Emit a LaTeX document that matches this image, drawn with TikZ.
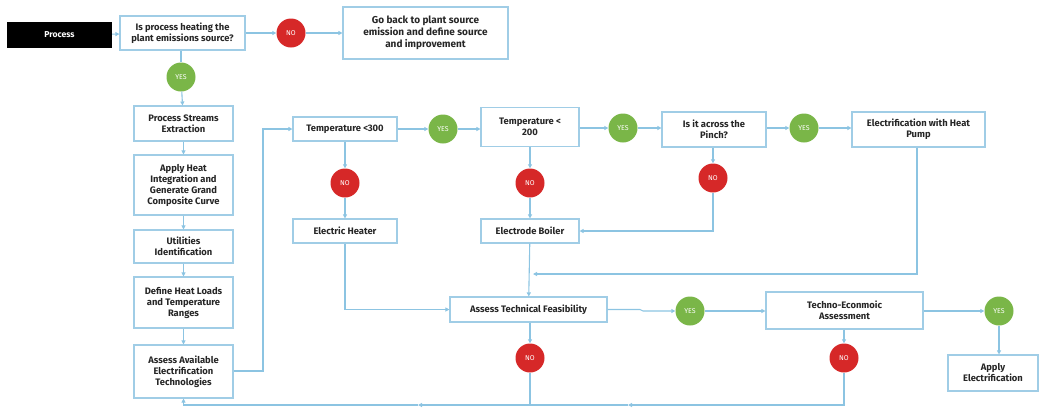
\documentclass[tikz,border=0pt]{standalone}
\usepackage{fontspec}
\setmainfont{Fira Sans}
\usetikzlibrary{arrows.meta}
\definecolor{lineblue}{RGB}{140,196,226}
\definecolor{boxblue}{RGB}{160,205,230}
\definecolor{okgreen}{RGB}{122,182,72}
\definecolor{nored}{RGB}{214,40,40}
\tikzset{
  box/.style={draw=boxblue, line width=1.1pt, fill=white, align=center, inner sep=1pt,
    font=\fontsize{9.4}{11}\selectfont\bfseries, text=black!85},
  blackbox/.style={fill=black, align=center, font=\fontsize{8.6}{10}\selectfont\bfseries, text=white},
  yesc/.style={circle, fill=okgreen, minimum size=29pt, inner sep=0pt, text=white, font=\fontsize{7}{8}\selectfont},
  noc/.style={circle, fill=nored, minimum size=29pt, inner sep=0pt, text=white, font=\fontsize{7}{8}\selectfont},
  conn/.style={draw=lineblue, line width=1.1pt},
  arr/.style={conn, -{Triangle[length=4pt,width=4pt]}},
}
\begin{document}
\begin{tikzpicture}[x=1pt,y=-1pt]
\useasboundingbox (0,0) rectangle (1042,408);
% nodes
\node[blackbox, minimum width=105pt, minimum height=26pt] (proc) at (59.5,35) {Process};
\node[box, minimum width=125pt, minimum height=34pt] (q1) at (182.5,33) {Is process heating the\\plant emissions source?};
\node[noc] (no1) at (291,33) {NO};
\node[box, minimum width=165pt, minimum height=52pt, font=\fontsize{10}{12}\selectfont\bfseries] (goback) at (425.5,33) {Go back to plant source\\emission and define source\\and improvement};
\node[yesc] (yes1) at (181,77) {YES};
\node[box, minimum width=99pt, minimum height=35pt] (pse) at (183.5,123.5) {Process Streams\\Extraction};
\node[box, minimum width=99pt, minimum height=60pt] (ahi) at (183.5,185) {Apply Heat\\Integration and\\Generate Grand\\Composite Curve};
\node[box, minimum width=99pt, minimum height=33pt] (ui) at (183.5,246.5) {Utilities\\Identification};
\node[box, minimum width=99pt, minimum height=51pt] (dhl) at (183.5,302.5) {Define Heat Loads\\and Temperature\\Ranges};
\node[box, minimum width=99pt, minimum height=53pt] (aaet) at (183.5,371.5) {Assess Available\\Electrification\\Technologies};
\node[box, minimum width=104pt, minimum height=24pt] (t300) at (345,129) {Temperature <300};
\node[yesc] (yes2) at (443,129) {YES};
\node[box, minimum width=98pt, minimum height=39pt] (t200) at (530,127) {Temperature <\\200};
\node[yesc] (yes3) at (623,128) {YES};
\node[box, minimum width=104pt, minimum height=35pt] (pinch) at (714,129.5) {Is it across the\\Pinch?};
\node[yesc] (yes4) at (804,128) {YES};
\node[box, minimum width=133pt, minimum height=35pt] (hp) at (918.5,129.5) {Electrification with Heat\\Pump};
\node[noc] (no2) at (345,183) {NO};
\node[box, minimum width=104pt, minimum height=24pt] (eh) at (345,231) {Electric Heater};
\node[noc] (no3) at (530,183) {NO};
\node[box, minimum width=98pt, minimum height=24pt] (eb) at (530,231) {Electrode Boiler};
\node[noc] (no4) at (713,178) {NO};
\node[box, minimum width=157pt, minimum height=25pt] (atf) at (528.5,309.5) {Assess Technical Feasibility};
\node[yesc] (yes5) at (690,311) {YES};
\node[box, minimum width=157pt, minimum height=37pt] (tea) at (844.5,310.5) {Techno-Econmoic\\Assessment};
\node[yesc] (yes6) at (999,311) {YES};
\node[box, minimum width=90pt, minimum height=36pt] (ae) at (993,373) {Apply\\Electrification};
\node[noc] (no5) at (530,358) {NO};
\node[noc] (no6) at (844,358) {NO};
% coordinates
\coordinate (c1) at (263,371);
\coordinate (c2) at (263,129);
\coordinate (hpd) at (917,274);
\coordinate (mrg) at (533,274);
\coordinate (ehd) at (345,309.5);
\coordinate (st1) at (640,309.5);
\coordinate (st2) at (643,311);
\coordinate (b1) at (844,405);
\coordinate (b2) at (628,405);
\coordinate (b3) at (418,405);
\coordinate (b4) at (183.5,405);
\coordinate (b5) at (530,405);
\coordinate (p1) at (713,231);
% connectors
\draw[arr] (proc) -- (q1);
\draw[arr] (q1) -- (no1);
\draw[arr] (no1) -- (goback);
\draw[conn] (q1.south -| yes1) -- (yes1);
\draw[arr] (yes1) -- (pse);
\draw[arr] (pse) -- (ahi);
\draw[arr] (ahi) -- (ui);
\draw[arr] (ui) -- (dhl);
\draw[arr] (dhl) -- (aaet);
\draw[arr] (aaet.east |- c1) -- (c1) -- (c2) -- (t300.west);
\draw[arr] (t300) -- (yes2);
\draw[arr] (yes2) -- (yes2 -| t200.west);
\draw[arr] (t200.east |- yes3) -- (yes3);
\draw[arr] (yes3) -- (yes3 -| pinch.west);
\draw[arr] (pinch.east |- yes4) -- (yes4);
\draw[arr] (yes4) -- (yes4 -| hp.west);
\draw[arr] (t300) -- (no2);
\draw[arr] (no2) -- (eh);
\draw[arr] (t200) -- (no3);
\draw[arr] (no3) -- (eb);
\draw[arr] (pinch.south -| no4) -- (no4);
\draw[arr] (no4) -- (p1) -- (eb.east);
\draw[arr] (hp.south -| hpd) -- (hpd) -- (mrg);
\draw[arr] (eb) -- (atf);
\draw[arr] (eh) -- (ehd) -- (atf.west);
\draw[arr] (atf.east) -- (st1) -- (st2) -- (yes5);
\draw[arr] (yes5) -- (yes5 -| tea.west);
\draw[arr] (tea.east |- yes6) -- (yes6);
\draw[arr] (yes6) -- (yes6 |- ae.north);
\draw[arr] (tea.south -| no6) -- (no6);
\draw[arr] (atf.south -| no5) -- (no5);
\draw[arr] (no6) -- (b1) -- (b2);
\draw[arr] (b2) -- (b3);
\draw[arr] (b3) -- (b4) -- (aaet.south);
\draw[conn] (no5) -- (b5);
\end{tikzpicture}
\end{document}
